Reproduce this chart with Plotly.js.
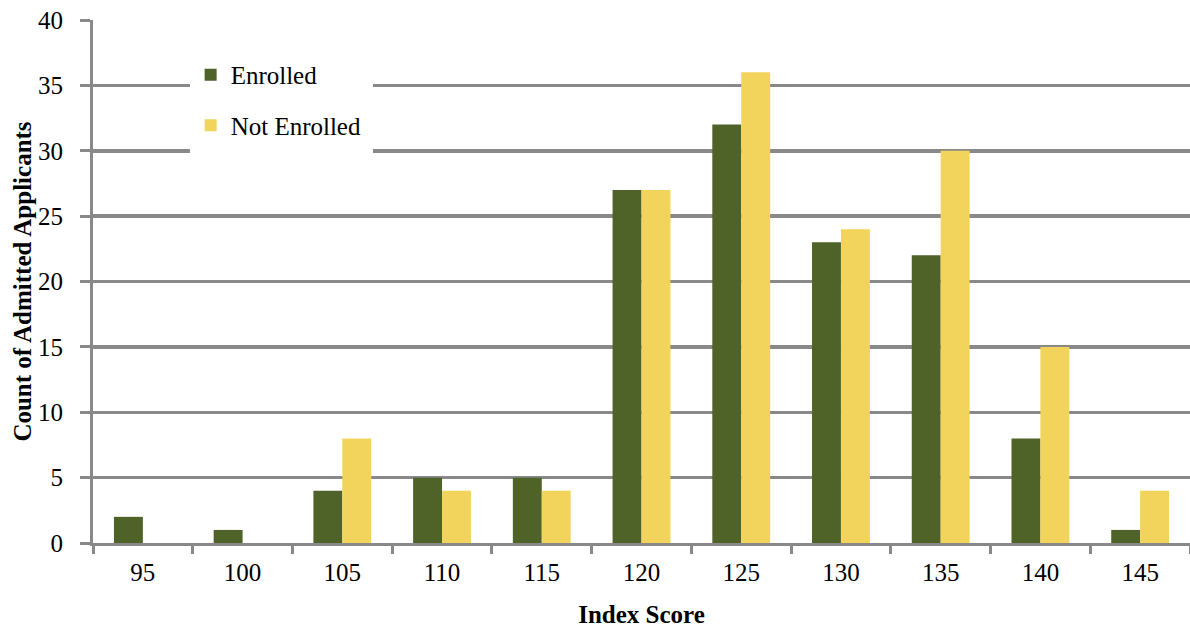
<!DOCTYPE html>
<html><head><meta charset="utf-8">
<script src="https://cdn.plot.ly/plotly-3.0.1.min.js"></script>
<style>html,body{margin:0;padding:0;background:#fff}#chart{width:1190px;height:628px}</style>
</head><body><div id="chart"></div>
<script>
const categories = ["95","100","105","110","115","120","125","130","135","140","145"];
const enrolled = [2,1,4,5,5,27,32,23,22,8,1];
const notEnrolled = [0,0,8,4,4,27,36,24,30,15,4];
const yTicks = [0,5,10,15,20,25,30,35,40];

const font = "Liberation Serif";
const grid = "#898989";
const fs = 25;

const traces = [
  {type:"bar", name:"Enrolled", x:categories, y:enrolled, marker:{color:"#4F6228", line:{width:0}}, legendgroup:"a"},
  {type:"bar", name:"Not Enrolled", x:categories, y:notEnrolled, marker:{color:"#F2D45C", line:{width:0}}, legendgroup:"b"}
];

const layout = {
  width:1190, height:628,
  margin:{l:93, r:0, t:20, b:85},
  paper_bgcolor:"#fff", plot_bgcolor:"#fff",
  font:{family:font, size:fs, color:"#000"},
  barmode:"group", bargap:0.42, bargroupgap:0,
  showlegend:true,
  legend:{x:0.089, y:0.939, xanchor:"left", yanchor:"top", bgcolor:"rgba(0,0,0,0)",
          font:{family:font, size:fs, color:"#000"}, traceorder:"grouped", tracegroupgap:15,
          itemwidth:30},
  shapes:[{type:"rect", xref:"paper", yref:"paper", x0:0.0884, x1:0.2552, y0:0.73, y1:0.94,
           fillcolor:"#fff", line:{width:0}, layer:"above"}],
  xaxis:{type:"category", tickson:"boundaries", ticks:"outside", ticklen:8, tickwidth:3,
         tickcolor:grid, showline:true, linecolor:grid, linewidth:3, showgrid:false,
         ticklabelstandoff:5, tickfont:{family:font, size:fs, color:"#000"},
         title:{text:"<b>Index Score</b>", font:{family:font, size:fs, color:"#000"}, standoff:31}},
  yaxis:{range:[0,40], tickvals:yTicks, ticks:"outside", ticklen:10, tickwidth:3,
         tickcolor:grid, showline:true, linecolor:grid, linewidth:3,
         showgrid:true, gridcolor:grid, gridwidth:3.5, zeroline:false,
         ticklabelstandoff:12, tickfont:{family:font, size:fs, color:"#000"},
         title:{text:"<b>Count of Admitted Applicants</b>", font:{family:font, size:fs, color:"#000"}, standoff:0}}
};

Plotly.newPlot("chart", traces, layout, {displayModeBar:false, staticPlot:true});
</script></body></html>
